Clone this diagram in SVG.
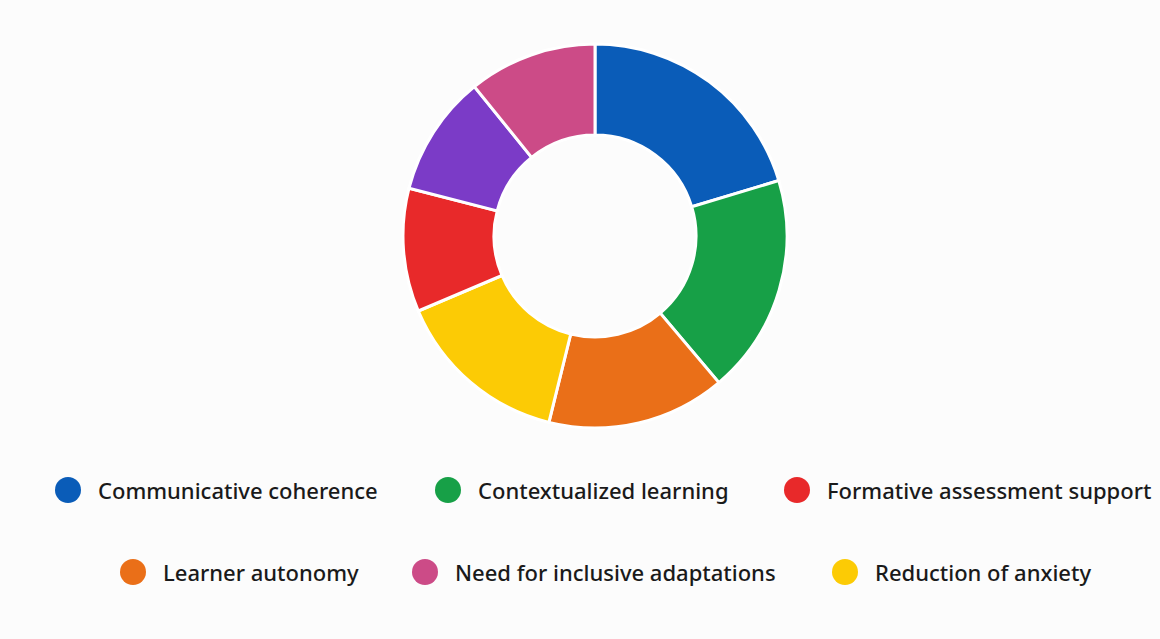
<svg xmlns="http://www.w3.org/2000/svg" width="1160" height="639" viewBox="0 0 1160 639">
<style>
.seg{stroke:#ffffff;stroke-width:3;stroke-linejoin:miter}
.lbl{font-family:"Noto Sans","Open Sans","Liberation Sans",sans-serif;font-size:22px;font-weight:500;fill:#1a1a1a}
</style>
<rect width="1160" height="639" fill="#fcfcfc"/>
<g id="donut">
<path id="seg-communicative" class="seg" fill="#0a5cb8" d="M595,44 A192,192 0 0 1 778.8,180.5 L691.7,206.8 A101,101 0 0 0 595,135 Z"/>
<path id="seg-contextualized" class="seg" fill="#17a047" d="M778.8,180.5 A192,192 0 0 1 718.9,382.6 L660.2,313.1 A101,101 0 0 0 691.7,206.8 Z"/>
<path id="seg-autonomy" class="seg" fill="#ea6f18" d="M718.9,382.6 A192,192 0 0 1 548.9,422.4 L570.7,334.0 A101,101 0 0 0 660.2,313.1 Z"/>
<path id="seg-anxiety" class="seg" fill="#fccb05" d="M548.9,422.4 A192,192 0 0 1 418.3,311.0 L502.0,275.5 A101,101 0 0 0 570.7,334.0 Z"/>
<path id="seg-formative" class="seg" fill="#e8292a" d="M418.3,311.0 A192,192 0 0 1 409.0,188.2 L497.2,210.9 A101,101 0 0 0 502.0,275.5 Z"/>
<path id="seg-purple" class="seg" fill="#7b3bc7" d="M409.0,188.2 A192,192 0 0 1 474.4,86.6 L531.6,157.4 A101,101 0 0 0 497.2,210.9 Z"/>
<path id="seg-inclusive" class="seg" fill="#cc4b87" d="M474.4,86.6 A192,192 0 0 1 595,44 L595,135 A101,101 0 0 0 531.6,157.4 Z"/>
</g>
<g id="legend-communicative"><circle cx="68" cy="490" r="13" fill="#0a5cb8"/><text class="lbl" x="98" y="499">Communicative coherence</text></g>
<g id="legend-contextualized"><circle cx="448" cy="490" r="13" fill="#17a047"/><text class="lbl" x="478" y="499">Contextualized learning</text></g>
<g id="legend-formative"><circle cx="797" cy="490" r="13" fill="#e8292a"/><text class="lbl" x="827" y="499">Formative assessment support</text></g>
<g id="legend-autonomy"><circle cx="133" cy="572" r="13" fill="#ea6f18"/><text class="lbl" x="163" y="581">Learner autonomy</text></g>
<g id="legend-inclusive"><circle cx="425" cy="572" r="13" fill="#cc4b87"/><text class="lbl" x="455" y="581">Need for inclusive adaptations</text></g>
<g id="legend-anxiety"><circle cx="845" cy="572" r="13" fill="#fccb05"/><text class="lbl" x="875" y="581">Reduction of anxiety</text></g>
</svg>
